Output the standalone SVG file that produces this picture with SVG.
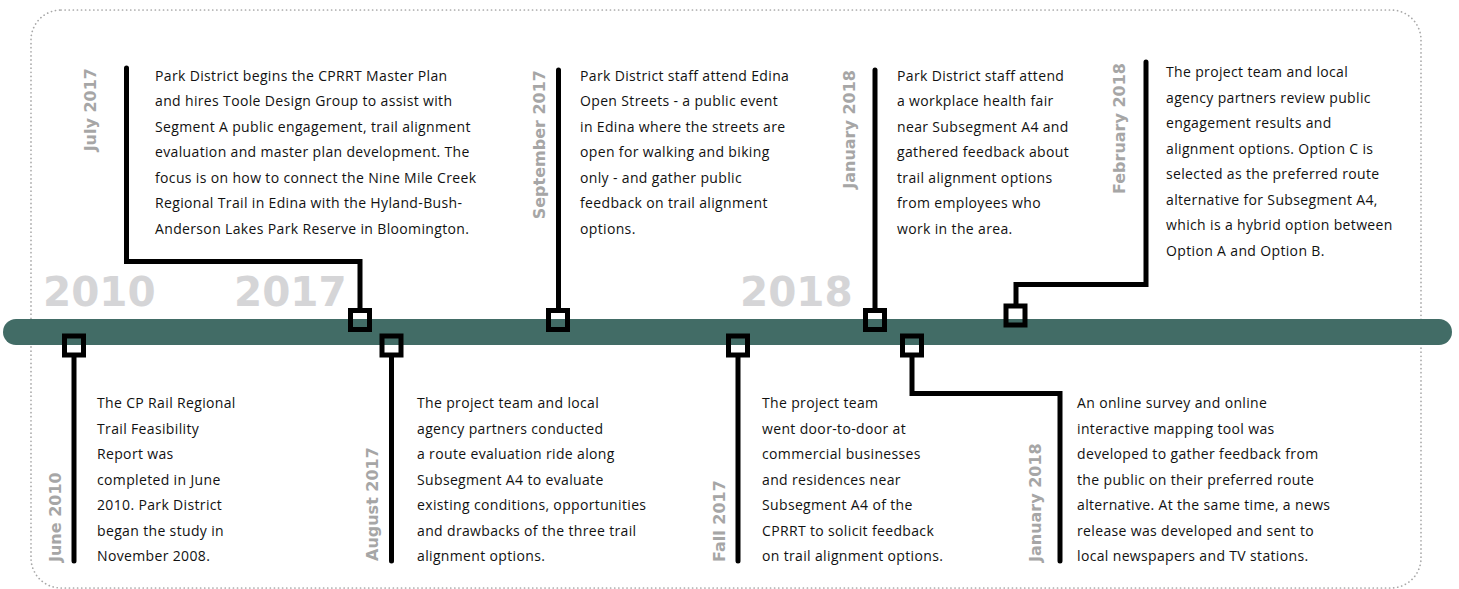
<svg xmlns="http://www.w3.org/2000/svg" width="1459" height="589" viewBox="0 0 1459 589">
<style>
.body{font-family:"Open Sans","Noto Sans",sans-serif;font-size:14px;letter-spacing:0.35px;fill:#111}
.date{font-family:"DejaVu Sans",Verdana,sans-serif;font-weight:bold;font-size:16px;fill:#a6a6a6}
.year{font-family:"DejaVu Sans",Verdana,sans-serif;font-weight:bold;font-size:40.5px;fill:#d5d5d7}
.conn{fill:none;stroke:#000;stroke-width:5;stroke-linecap:round;stroke-linejoin:miter}
.mk{fill:none;stroke:#000;stroke-width:5}
</style>
<rect x="31" y="10" width="1390" height="578" rx="30" fill="none" stroke="#a8a8a8" stroke-width="1.7" stroke-dasharray="0.1 4" stroke-linecap="round"/>
<g id="years">
<text class="year" x="43" y="306">2010</text>
<text class="year" x="234" y="306">2017</text>
<text class="year" x="740" y="306">2018</text>
</g>
<rect id="timeline" x="3" y="319" width="1449" height="26" rx="13" fill="#426c66"/>
<g id="connectors">
<path class="conn" d="M126.5,68 V261.5 H360 V308"/>
<path class="conn" d="M558.5,70 V308"/>
<path class="conn" d="M875,70 V308"/>
<path class="conn" d="M1146,62 V284.5 H1016 V304"/>
<path class="conn" d="M74,357 V561"/>
<path class="conn" d="M391.5,357 V561"/>
<path class="conn" d="M738,357 V561"/>
<path class="conn" d="M912,357 V393.5 H1060 V561"/>
</g>
<g id="markers">
<rect class="mk" x="350.5" y="310.5" width="19" height="19"/>
<rect class="mk" x="548.5" y="310.5" width="19" height="19"/>
<rect class="mk" x="865.5" y="310.5" width="19" height="19"/>
<rect class="mk" x="1006" y="306" width="19" height="19"/>
<rect class="mk" x="64.5" y="336" width="19" height="19"/>
<rect class="mk" x="382" y="336" width="19" height="19"/>
<rect class="mk" x="728.5" y="336" width="19" height="19"/>
<rect class="mk" x="902.5" y="336" width="19" height="19"/>
</g>
<g id="node-jul2017">
<text class="date" transform="translate(96,68) rotate(-90)" text-anchor="end">July 2017</text>
<text class="body"><tspan x="155" y="80.7">Park District begins the CPRRT Master Plan</tspan><tspan x="155" dy="25.5">and hires Toole Design Group to assist with</tspan><tspan x="155" dy="25.5">Segment A public engagement, trail alignment</tspan><tspan x="155" dy="25.5">evaluation and master plan development. The</tspan><tspan x="155" dy="25.5">focus is on how to connect the Nine Mile Creek</tspan><tspan x="155" dy="25.5">Regional Trail in Edina with the Hyland-Bush-</tspan><tspan x="155" dy="25.5">Anderson Lakes Park Reserve in Bloomington.</tspan></text>
</g>
<g id="node-sep2017">
<text class="date" transform="translate(545,70) rotate(-90)" text-anchor="end">September 2017</text>
<text class="body"><tspan x="580" y="80.7">Park District staff attend Edina</tspan><tspan x="580" dy="25.5">Open Streets - a public event</tspan><tspan x="580" dy="25.5">in Edina where the streets are</tspan><tspan x="580" dy="25.5">open for walking and biking</tspan><tspan x="580" dy="25.5">only - and gather public</tspan><tspan x="580" dy="25.5">feedback on trail alignment</tspan><tspan x="580" dy="25.5">options.</tspan></text>
</g>
<g id="node-jan2018a">
<text class="date" transform="translate(855,70) rotate(-90)" text-anchor="end">January 2018</text>
<text class="body"><tspan x="897" y="80.7">Park District staff attend</tspan><tspan x="897" dy="25.5">a workplace health fair</tspan><tspan x="897" dy="25.5">near Subsegment A4 and</tspan><tspan x="897" dy="25.5">gathered feedback about</tspan><tspan x="897" dy="25.5">trail alignment options</tspan><tspan x="897" dy="25.5">from employees who</tspan><tspan x="897" dy="25.5">work in the area.</tspan></text>
</g>
<g id="node-feb2018">
<text class="date" transform="translate(1125,63) rotate(-90)" text-anchor="end">February 2018</text>
<text class="body"><tspan x="1166" y="77">The project team and local</tspan><tspan x="1166" dy="25.5">agency partners review public</tspan><tspan x="1166" dy="25.5">engagement results and</tspan><tspan x="1166" dy="25.5">alignment options. Option C is</tspan><tspan x="1166" dy="25.5">selected as the preferred route</tspan><tspan x="1166" dy="25.5">alternative for Subsegment A4,</tspan><tspan x="1166" dy="25.5">which is a hybrid option between</tspan><tspan x="1166" dy="25.5">Option A and Option B.</tspan></text>
</g>
<g id="node-jun2010">
<text class="date" transform="translate(61,562) rotate(-90)">June 2010</text>
<text class="body"><tspan x="97" y="408.3">The CP Rail Regional</tspan><tspan x="97" dy="25.5">Trail Feasibility</tspan><tspan x="97" dy="25.5">Report was</tspan><tspan x="97" dy="25.5">completed in June</tspan><tspan x="97" dy="25.5">2010. Park District</tspan><tspan x="97" dy="25.5">began the study in</tspan><tspan x="97" dy="25.5">November 2008.</tspan></text>
</g>
<g id="node-aug2017">
<text class="date" transform="translate(378,561) rotate(-90)">August 2017</text>
<text class="body"><tspan x="417" y="408.3">The project team and local</tspan><tspan x="417" dy="25.5">agency partners conducted</tspan><tspan x="417" dy="25.5">a route evaluation ride along</tspan><tspan x="417" dy="25.5">Subsegment A4 to evaluate</tspan><tspan x="417" dy="25.5">existing conditions, opportunities</tspan><tspan x="417" dy="25.5">and drawbacks of the three trail</tspan><tspan x="417" dy="25.5">alignment options.</tspan></text>
</g>
<g id="node-fall2017">
<text class="date" transform="translate(725,562) rotate(-90)">Fall 2017</text>
<text class="body"><tspan x="762" y="408.3">The project team</tspan><tspan x="762" dy="25.5">went door-to-door at</tspan><tspan x="762" dy="25.5">commercial businesses</tspan><tspan x="762" dy="25.5">and residences near</tspan><tspan x="762" dy="25.5">Subsegment A4 of the</tspan><tspan x="762" dy="25.5">CPRRT to solicit feedback</tspan><tspan x="762" dy="25.5">on trail alignment options.</tspan></text>
</g>
<g id="node-jan2018b">
<text class="date" transform="translate(1041,562) rotate(-90)">January 2018</text>
<text class="body"><tspan x="1077" y="408.3">An online survey and online</tspan><tspan x="1077" dy="25.5">interactive mapping tool was</tspan><tspan x="1077" dy="25.5">developed to gather feedback from</tspan><tspan x="1077" dy="25.5">the public on their preferred route</tspan><tspan x="1077" dy="25.5">alternative. At the same time, a news</tspan><tspan x="1077" dy="25.5">release was developed and sent to</tspan><tspan x="1077" dy="25.5">local newspapers and TV stations.</tspan></text>
</g>
</svg>
